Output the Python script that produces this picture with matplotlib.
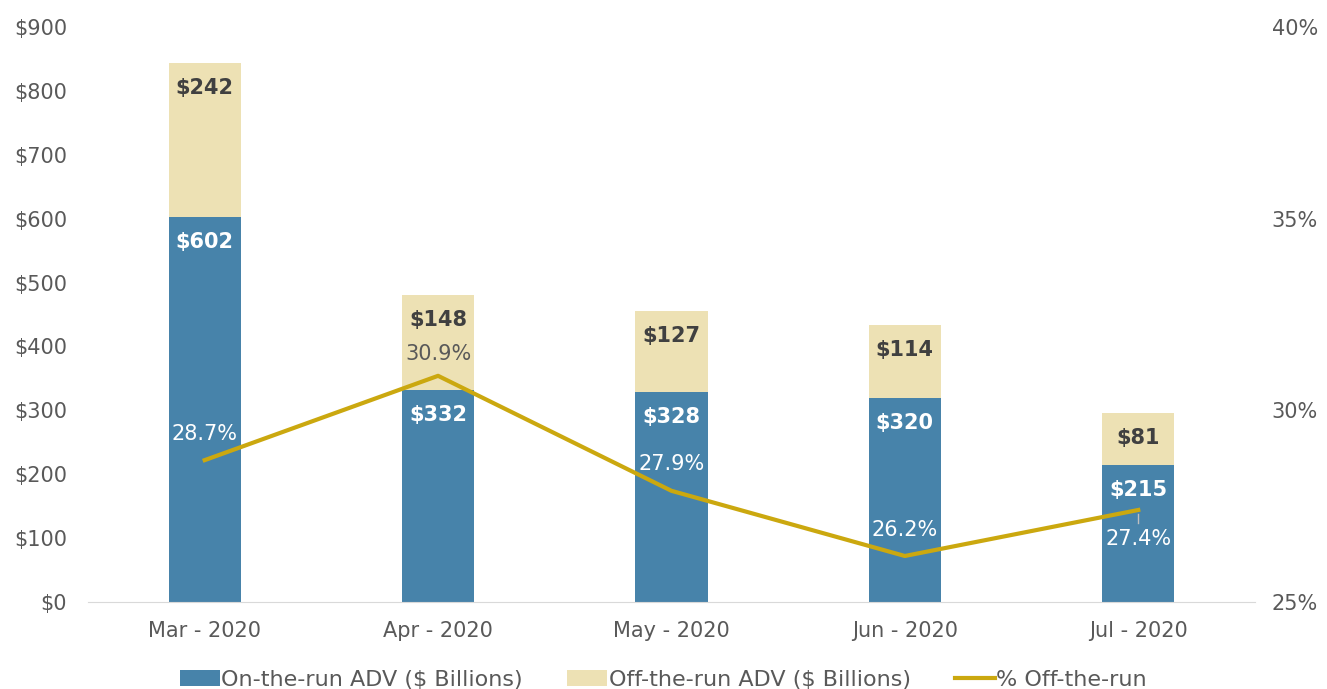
import matplotlib.pyplot as plt
import matplotlib.ticker as mticker
import numpy as np

plt.rcParams['font.family'] = ['DejaVu Sans']

months = ["Mar - 2020", "Apr - 2020", "May - 2020", "Jun - 2020", "Jul - 2020"]
on_run = [602, 332, 328, 320, 215]
off_run = [242, 148, 127, 114, 81]
pct_off = [28.7, 30.9, 27.9, 26.2, 27.4]

blue = '#4783AA'
beige = '#EDE1B4'
gold = '#CBA80F'
grey = '#595959'

fig = plt.figure(figsize=(13.27, 6.89), dpi=100)
ax = fig.add_axes([0.0663, 0.1263, 0.8794, 0.8345])
ax2 = ax.twinx()

x = np.arange(len(months))
w = 0.31
b1 = ax.bar(x, on_run, w, color=blue, label='On-the-run ADV ($ Billions)', zorder=2)
b2 = ax.bar(x, off_run, w, bottom=on_run, color=beige, label='Off-the-run ADV ($ Billions)', zorder=2)

for i in range(len(x)):
    ax.annotate('$%d' % on_run[i], (x[i], on_run[i]), xytext=(0, -18), textcoords='offset points',
                ha='center', va='center', color='white', fontsize=15, fontweight='bold', zorder=3)
    top = on_run[i] + off_run[i]
    ax.annotate('$%d' % off_run[i], (x[i], top), xytext=(0, -18), textcoords='offset points',
                ha='center', va='center', color='#404040', fontsize=15, fontweight='bold', zorder=3)

ax.set_ylim(0, 900)
ax.set_xlim(-0.5, 4.5)
ax.yaxis.set_major_locator(mticker.MultipleLocator(100))
ax.yaxis.set_major_formatter(mticker.FuncFormatter(lambda v, p: '$%d' % v))
ax.set_xticks(x)
ax.set_xticklabels(months)

ax2.set_ylim(25, 40)
ax2.yaxis.set_major_locator(mticker.MultipleLocator(5))
ax2.yaxis.set_major_formatter(mticker.FuncFormatter(lambda v, p: '%d%%' % v))
line, = ax2.plot(x, pct_off, color=gold, lw=3, label='% Off-the-run', zorder=4)

# percentage labels
offsets = [(0, 19), (0, 16), (0, 19), (0, 19), (0, -21)]
colors = ['white', grey, 'white', 'white', 'white']
for i in range(len(x)):
    ax2.annotate('%.1f%%' % pct_off[i], (x[i], pct_off[i]), xytext=offsets[i], textcoords='offset points',
                 ha='center', va='center', color=colors[i], fontsize=15)
ax2.plot([x[4], x[4]], [pct_off[4] - 0.1, pct_off[4] - 0.35], color='#BFBFBF', lw=1, zorder=5)

for a in (ax, ax2):
    for s in a.spines.values():
        s.set_visible(False)
    a.tick_params(length=0, labelsize=15, colors=grey)
ax.spines['bottom'].set_visible(True)
ax.spines['bottom'].set_color('#D9D9D9')
ax.tick_params(axis='x', pad=14)
ax.tick_params(axis='y', pad=15)
ax2.tick_params(axis='y', pad=12)

handles = [b1, b2, line]
fig.legend(handles, [h.get_label() for h in handles], loc='lower center', ncol=3,
           bbox_to_anchor=(0.5, -0.03), frameon=False, fontsize=16, labelcolor=grey,
           handlelength=1.8, handletextpad=0.05, columnspacing=2.0)

fig.savefig('out.png', dpi=100)
